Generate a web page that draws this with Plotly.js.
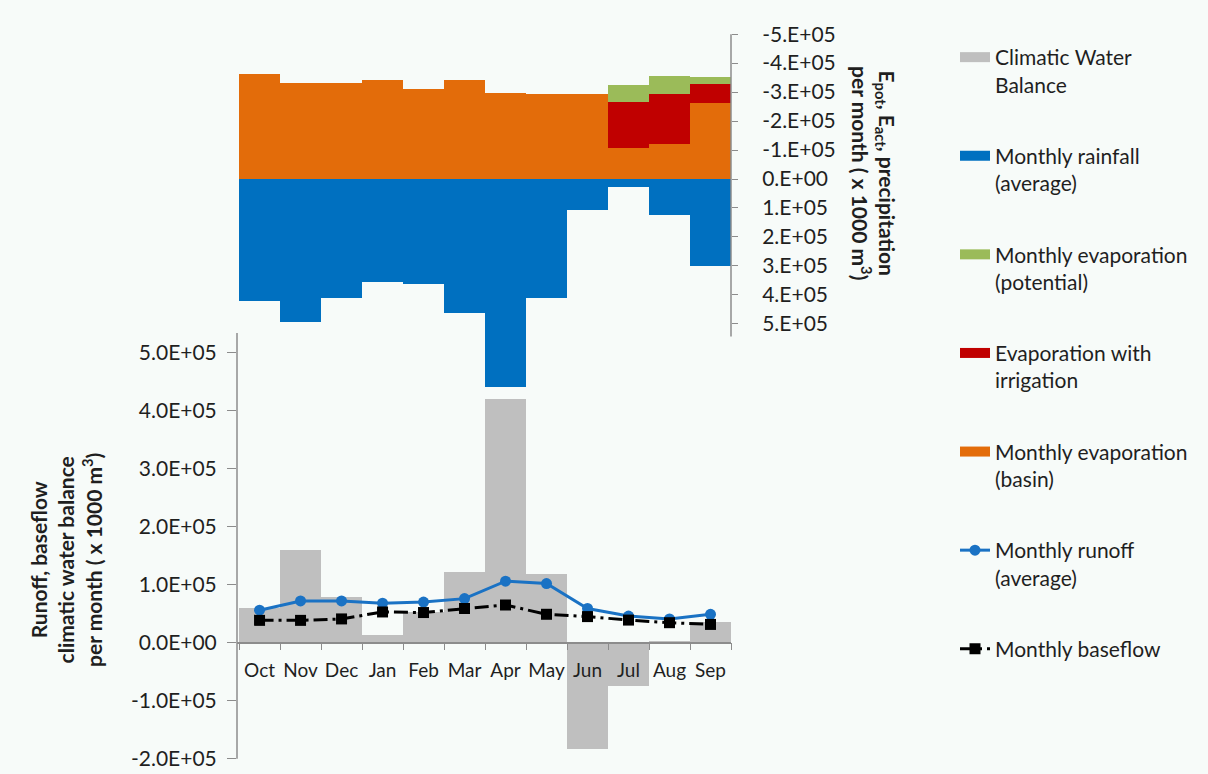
<!DOCTYPE html>
<html>
<head>
<meta charset="utf-8">
<script src="https://cdn.plot.ly/plotly-3.0.1.min.js"></script>
<style>
  html, body { margin: 0; padding: 0; background: #f7fbf9; }
  #chart { width: 1208px; height: 774px; }
</style>
</head>
<body>
<div id="chart"></div>
<script>
// ---- data (x 1000 m3) ----
var months = ['Oct','Nov','Dec','Jan','Feb','Mar','Apr','May','Jun','Jul','Aug','Sep'];
var climaticWaterBalance = [0.59e5, 1.59e5, 0.78e5, 0.14e5, 0.53e5, 1.22e5, 4.21e5, 1.18e5, -1.84e5, -0.75e5, 0.03e5, 0.36e5];
var monthlyRainfall = [4.20e5, 4.94e5, 4.10e5, 3.57e5, 3.63e5, 4.63e5, 7.18e5, 4.10e5, 1.07e5, 0.29e5, 1.25e5, 3.00e5];
var evapPotential = [null, null, null, null, null, null, null, null, null, -3.23e5, -3.55e5, -3.51e5];
var evapIrrigation = [null, null, null, null, null, null, null, null, null, -2.67e5, -2.93e5, -3.29e5];
var evapBasin = [-3.61e5, -3.33e5, -3.33e5, -3.41e5, -3.11e5, -3.41e5, -2.98e5, -2.93e5, -2.93e5, -1.06e5, -1.22e5, -2.63e5];
var monthlyRunoff = [0.56e5, 0.72e5, 0.72e5, 0.68e5, 0.70e5, 0.76e5, 1.06e5, 1.02e5, 0.59e5, 0.46e5, 0.41e5, 0.49e5];
var monthlyBaseflow = [0.385e5, 0.385e5, 0.41e5, 0.53e5, 0.52e5, 0.59e5, 0.65e5, 0.49e5, 0.45e5, 0.39e5, 0.345e5, 0.315e5];

var leftTickVals = [-2e5, -1e5, 0, 1e5, 2e5, 3e5, 4e5, 5e5];
var leftTickText = ['-2.0E+05','-1.0E+05','0.0E+00','1.0E+05','2.0E+05','3.0E+05','4.0E+05','5.0E+05'];
var rightTickVals = [-5e5,-4e5,-3e5,-2e5,-1e5,0,1e5,2e5,3e5,4e5,5e5];
var rightTickText = ['-5.E+05','-4.E+05','-3.E+05','-2.E+05','-1.E+05','0.E+00','1.E+05','2.E+05','3.E+05','4.E+05','5.E+05'];

var names = {
  cwb: 'Climatic Water<br>Balance',
  rain: 'Monthly rainfall<br>(average)',
  pot: 'Monthly evaporation<br>(potential)',
  irr: 'Evaporation with<br>irrigation',
  basin: 'Monthly evaporation<br>(basin)',
  runoff: 'Monthly runoff<br>(average)',
  base: 'Monthly baseflow'
};

// ---- colours ----
var cGrey = '#bfbfbf', cBlue = '#0070c0', cGreen = '#9bbb59', cRed = '#c00000', cOrange = '#e36c0a', cLine = '#1a72c4';
var axisCol = '#8c8c8c', txtCol = '#1f1f1f', bg = '#f7fbf9';

// ---- geometry (pixels) ----
var W = 1208, H = 774, mL = 237, mR = 477, mT = 30, mB = 10;
var plotTop = mT, plotBot = H - mB, plotH = plotBot - plotTop, plotW = W - mL - mR;
// left axis: zero at 642.7px, 58 px per 1e5
var lZero = 642.7, lPx = 58.0;
var leftRange = [-(plotBot - lZero) / lPx * 1e5, (lZero - plotTop) / lPx * 1e5];
// right axis (reversed): zero at 179px, 28.97 px per 1e5
var rZero = 179, rPx = 28.97;
var rightRange = [(plotBot - rZero) / rPx * 1e5, -(rZero - plotTop) / rPx * 1e5];
var xAxisPos = (0 - leftRange[0]) / (leftRange[1] - leftRange[0]);
function px2x(p) { return (p - mL) / plotW; }
function px2y(p) { return (plotBot - p) / plotH; }

var traces = [
  { type: 'bar', x: months, y: climaticWaterBalance, yaxis: 'y', name: names.cwb,
    marker: { color: cGrey }, showlegend: false, hoverinfo: 'x+y' },
  { type: 'scatter', mode: 'lines+markers', x: months, y: monthlyRunoff, yaxis: 'y', name: names.runoff,
    line: { color: cLine, width: 3 }, marker: { color: cLine, size: 11, symbol: 'circle' },
    legendrank: 6, legendgroup: 'g6' },
  { type: 'scatter', mode: 'lines+markers', x: months, y: monthlyBaseflow, yaxis: 'y', name: names.base,
    line: { color: '#000000', width: 3, dash: '14px,5px,3px,5px' }, marker: { color: '#000000', size: 11, symbol: 'square' },
    legendrank: 7, legendgroup: 'g7' },
  { type: 'bar', x: months, y: evapPotential, yaxis: 'y2', name: names.pot,
    marker: { color: cGreen }, showlegend: false },
  { type: 'bar', x: months, y: evapIrrigation, yaxis: 'y2', name: names.irr,
    marker: { color: cRed }, showlegend: false },
  { type: 'bar', x: months, y: evapBasin, yaxis: 'y2', name: names.basin,
    marker: { color: cOrange }, showlegend: false },
  { type: 'bar', x: months, y: monthlyRainfall, yaxis: 'y2', name: names.rain,
    marker: { color: cBlue }, showlegend: false },
  // legend swatches for the bar series
  { type: 'scatter', mode: 'lines', x: [null], y: [null], name: names.cwb, line: { color: cGrey, width: 12 }, legendrank: 1, legendgroup: 'g1', hoverinfo: 'skip' },
  { type: 'scatter', mode: 'lines', x: [null], y: [null], name: names.rain, line: { color: cBlue, width: 12 }, legendrank: 2, legendgroup: 'g2', hoverinfo: 'skip' },
  { type: 'scatter', mode: 'lines', x: [null], y: [null], name: names.pot, line: { color: cGreen, width: 12 }, legendrank: 3, legendgroup: 'g3', hoverinfo: 'skip' },
  { type: 'scatter', mode: 'lines', x: [null], y: [null], name: names.irr, line: { color: cRed, width: 12 }, legendrank: 4, legendgroup: 'g4', hoverinfo: 'skip' },
  { type: 'scatter', mode: 'lines', x: [null], y: [null], name: names.basin, line: { color: cOrange, width: 12 }, legendrank: 5, legendgroup: 'g5', hoverinfo: 'skip' }
];

var layout = {
  width: W, height: H,
  margin: { l: mL, r: mR, t: mT, b: mB, pad: 0 },
  paper_bgcolor: bg, plot_bgcolor: bg,
  font: { family: 'Lato, "Noto Sans", sans-serif', size: 19, color: txtCol },
  barmode: 'overlay', bargap: 0,
  showlegend: true,
  legend: {
    x: px2x(955), xanchor: 'left', y: px2y(37), yanchor: 'top',
    font: { size: 21, color: txtCol }, valign: 'top',
    tracegroupgap: 41, bgcolor: 'rgba(0,0,0,0)', traceorder: 'grouped'
  },
  xaxis: {
    type: 'category', range: [-0.55, 11.5], anchor: 'free', position: xAxisPos,
    showline: true, linecolor: axisCol, linewidth: 1.5,
    ticks: 'outside', tickson: 'boundaries', ticklen: 7, tickcolor: axisCol, tickwidth: 1.2,
    tickangle: 0, automargin: false,
    showgrid: false, zeroline: false, tickfont: { size: 19, color: txtCol }, ticklabelstandoff: 11
  },
  yaxis: {
    range: leftRange, tickvals: leftTickVals, ticktext: leftTickText,
    ticks: 'outside', ticklen: 9, tickcolor: axisCol, tickwidth: 1.2,
    showline: false, showgrid: false, zeroline: false,
    tickfont: { size: 21, color: txtCol }, ticklabelstandoff: 6
  },
  yaxis2: {
    overlaying: 'y', side: 'right', anchor: 'x', range: rightRange,
    tickvals: rightTickVals, ticktext: rightTickText,
    ticks: 'outside', ticklen: 6, tickcolor: axisCol, tickwidth: 1.2,
    showline: false, showgrid: false, zeroline: false,
    tickfont: { size: 21, color: txtCol }, ticklabelstandoff: 20
  },
  shapes: [
    { type: 'line', xref: 'paper', x0: 0, x1: 0, yref: 'y', y0: -2e5, y1: 5.34e5, line: { color: axisCol, width: 1.5 } },
    { type: 'line', xref: 'paper', x0: 1, x1: 1, yref: 'y2', y0: -5e5, y1: 5.44e5, line: { color: axisCol, width: 1.5 } }
  ],
  annotations: [
    { xref: 'paper', yref: 'paper', x: px2x(66), y: px2y(560), xanchor: 'center', yanchor: 'middle',
      textangle: -90, showarrow: false, align: 'center',
      text: '<b>Runoff, baseflow<br>climatic water balance<br>per month ( x 1000 m<sup>3</sup>)</b>',
      font: { size: 21, color: txtCol } },
    { xref: 'paper', yref: 'paper', x: px2x(874), y: px2y(173), xanchor: 'center', yanchor: 'middle',
      textangle: 90, showarrow: false, align: 'center',
      text: '<b>E<sub>pot</sub>, E<sub>act</sub>, precipitation<br>per month ( x 1000 m<sup>3</sup>)</b>',
      font: { size: 21, color: txtCol } }
  ]
};

Plotly.newPlot('chart', traces, layout, { displayModeBar: false, responsive: false });
</script>
</body>
</html>
